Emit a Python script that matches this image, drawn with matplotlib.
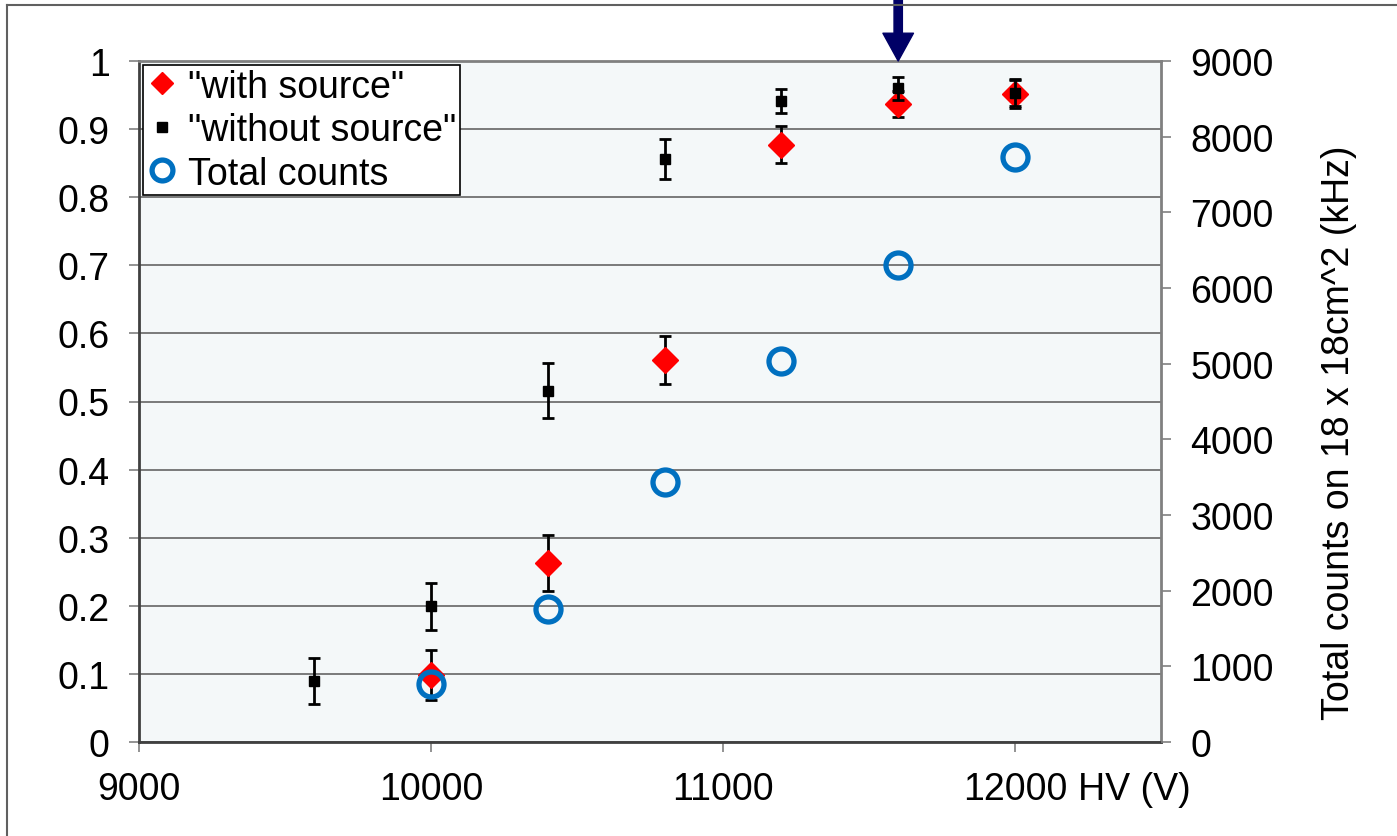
import numpy as np
import matplotlib.pyplot as plt
from matplotlib.lines import Line2D

plt.rcParams['font.family'] = ['Liberation Sans', 'DejaVu Sans']

# "with source" efficiency
hv_with = [10000, 10400, 10800, 11200, 11600, 12000]
eff_with = [0.098, 0.263, 0.561, 0.877, 0.937, 0.952]
err_with = [0.037, 0.041, 0.035, 0.027, 0.019, 0.021]

# "without source" efficiency
hv_without = [9600, 10000, 10400, 10800, 11200, 11600, 12000]
eff_without = [0.090, 0.199, 0.516, 0.856, 0.941, 0.960, 0.953]
err_without = [0.034, 0.034, 0.040, 0.029, 0.018, 0.017, 0.019]

# total counts (kHz)
hv_counts = [10000, 10400, 10800, 11200, 11600, 12000]
counts = [760, 1760, 3440, 5030, 6300, 7730]

arrow_hv = 11600
fs = 27

fig = plt.figure(figsize=(13.97, 8.37), dpi=100)
ax = fig.add_axes([139/1397, 1-743/837, (1161-139)/1397, (743-62)/837])
ax.set_facecolor('#f4f8f9')

ax.errorbar(hv_with, eff_with, yerr=err_with, fmt='D', color='red', ms=13,
            ecolor='black', elinewidth=2, capsize=4.5, capthick=2, zorder=3)
ax.errorbar(hv_without, eff_without, yerr=err_without, fmt='s', color='black', ms=7,
            ecolor='black', elinewidth=2, capsize=4.5, capthick=2, zorder=4)

ax.set_xlim(9000, 12500)
ax.set_ylim(0, 1)
ax.set_xticks([9000, 10000, 11000, 12000])
ax.set_yticks(np.arange(0, 1.01, 0.1))
ax.set_yticklabels(['0', '0.1', '0.2', '0.3', '0.4', '0.5', '0.6', '0.7', '0.8', '0.9', '1'])
ax.grid(axis='y', color='#707070', lw=1.3)
ax.set_axisbelow(True)
ax.tick_params(axis='both', labelsize=fs, length=7, width=1.2, color='#808080', pad=14)
for s in ax.spines.values():
    s.set_color('#808080')
    s.set_linewidth(2)
ax.spines['left'].set_color('#404040')
ax.spines['bottom'].set_color('#404040')

ax.text(12410, -0.043, 'HV (V)', fontsize=fs, ha='center', va='top',
        transform=ax.get_xaxis_transform())

ax2 = ax.twinx()
ax2.plot(hv_counts, counts, 'o', mfc='none', mec='#0070c0', mew=3.8, ms=18, zorder=5)
ax2.set_ylim(0, 9000)
ax2.set_yticks(np.arange(0, 9001, 1000))
ax2.tick_params(axis='y', labelsize=fs, length=7, width=1.2, color='#808080', pad=14)
for s in ax2.spines.values():
    s.set_visible(False)
ax2.set_ylabel('Total counts on 18 x 18cm^2 (kHz)', fontsize=fs)
ax2.yaxis.set_label_coords(1.157, 0.455)

handles = [
    Line2D([], [], ls='none', marker='D', color='red', ms=11),
    Line2D([], [], ls='none', marker='s', color='black', ms=7),
    Line2D([], [], ls='none', marker='o', mfc='none', mec='#0070c0', mew=3.8, ms=15),
]
leg = ax2.legend(handles, ['"with source"', '"without source"', 'Total counts'],
                 loc='upper left', fontsize=fs, frameon=True, fancybox=False,
                 borderaxespad=0.1, handlelength=0.8, handletextpad=0.3,
                 labelspacing=0.2, borderpad=0.1, framealpha=1)
leg.get_frame().set_edgecolor('black')
leg.get_frame().set_linewidth(1.2)

ax.annotate('', xy=(arrow_hv, 1.0), xytext=(arrow_hv, 1.095),
            xycoords=('data', 'axes fraction'), textcoords=('data', 'axes fraction'),
            arrowprops=dict(width=6, headwidth=22, headlength=20, shrink=0,
                            color='#000066'), annotation_clip=False)

# outer frame (left and top edges)
fig.add_artist(Line2D([7/1397, 7/1397], [0, 1-6/837], color='#606060', lw=1.5))
fig.add_artist(Line2D([7/1397, 1], [1-6/837, 1-6/837], color='#606060', lw=1.5))

fig.savefig('out.png', dpi=100)
